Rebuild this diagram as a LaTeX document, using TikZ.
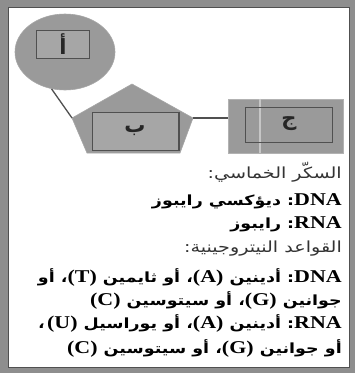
\documentclass[tikz,border=0pt]{standalone}
\usepackage{fontspec}
\usetikzlibrary{shapes.geometric}
\TeXXeTstate=1
\newfontfamily\arabicfont[Script=Arabic]{DejaVu Sans}
\newfontfamily\arabicwide[Script=Arabic,FakeStretch=1.25]{DejaVu Sans}
\newfontfamily\latinfont[FakeStretch=1.22]{Liberation Serif}
\definecolor{framegray}{HTML}{8E8E8E}
\definecolor{shapegray}{HTML}{9A9A9A}
\definecolor{boxgray}{HTML}{A6A6A6}
\definecolor{edgegray}{HTML}{505050}
\definecolor{inkgray}{HTML}{262626}
\newcommand{\lt}[1]{\beginL{\latinfont\bfseries\fontsize{18}{20}\selectfont #1}\endL{}}
\tikzset{
  shapefill/.style={fill=shapegray, draw=gray!70, line width=0.6pt},
  innerbox/.style={fill=boxgray, draw=edgegray, line width=1pt, inner sep=0pt},
  letter/.style={text=inkgray, font=\arabicfont\bfseries\fontsize{21}{21}\selectfont},
  link/.style={draw=edgegray, line width=1.3pt},
  textline/.style={anchor=base east, inner sep=0pt, text=black},
  bodyfont/.style={font=\arabicwide\bfseries\fontsize{14}{16}\selectfont},
  headfont/.style={font=\arabicwide\fontsize{15.3}{17}\selectfont, text=black!80},
}
\begin{document}
\begin{tikzpicture}[x=1pt,y=-1pt]
\useasboundingbox (0,0) rectangle (355,373);
% frame
\fill[framegray] (0,0) rectangle (355,373);
\fill[white] (8,7) rectangle (349,367);
\draw[edgegray, line width=1pt] (8,7) rectangle (349,367);

% ellipse with box A
\node[ellipse, shapefill, inner sep=0pt, minimum width=100pt, minimum height=76pt] (ea) at (65,52) {};
\node[innerbox, minimum width=53pt, minimum height=28pt] (ra) at (63,44) {};
\node[letter] (la) at (ra) {\beginR أ\endR};

% pentagon with box B
\coordinate (p1) at (132,84);
\coordinate (p2) at (193,118);
\coordinate (p3) at (180,153);
\coordinate (p4) at (87,153);
\coordinate (p5) at (72,118);
\path[shapefill] (p1) -- (p2) -- (p3) -- (p4) -- (p5) -- cycle;
\node[innerbox, minimum width=86pt, minimum height=38pt] (rb) at (135,131) {};
\draw[edgegray, line width=2pt] (rb.north east) -- (rb.south east);
\node[letter] (lb) at (rb) {\beginR ب\endR};

% rectangle with box C
\node[shapefill, draw=gray!60, minimum width=115pt, minimum height=54pt, inner sep=0pt] (rc) at (285.5,126) {};
\draw[gray!45, line width=2pt] (rc.north west) ++(32,0) coordinate (s1) -- (s1 |- rc.south);
\node[innerbox, fill=none, draw=edgegray, line width=0.8pt, minimum width=87pt, minimum height=35pt] (ric) at (288.5,124.5) {};
\node[letter] (lc) at (289,124) {\beginR ج\endR};

% connectors
\draw[link] (ea.250) -- (p5);
\draw[link] (p2) -- (p2 -| rc.west);

% caption lines
\node[textline, headfont] (t1) at (342,178) {\beginR السكّر الخماسي:\endR};
\node[textline, bodyfont] (t2) at (342,205) {\beginR\lt{DNA}: ديؤكسي رايبوز\endR};
\node[textline, bodyfont] (t3) at (342,228) {\beginR\lt{RNA}: رايبوز\endR};
\node[textline, headfont] (t4) at (342,252) {\beginR القواعد النيتروجينية:\endR};
\node[textline, bodyfont] (t5) at (342,282) {\beginR\lt{DNA}: أدينين \lt{(A)}، أو ثايمين \lt{(T)}، أو\endR};
\node[textline, bodyfont] (t6) at (342,305) {\beginR جوانين \lt{(G)}، أو سيتوسين \lt{(C)}\endR};
\node[textline, bodyfont] (t7) at (342,328) {\beginR\lt{RNA}: أدينين \lt{(A)}، أو يوراسيل \lt{(U)}\,،\endR};
\node[textline, bodyfont] (t8) at (342,353) {\beginR أو جوانين \lt{(G)}، أو سيتوسين \lt{(C)}\endR};
\end{tikzpicture}
\end{document}
